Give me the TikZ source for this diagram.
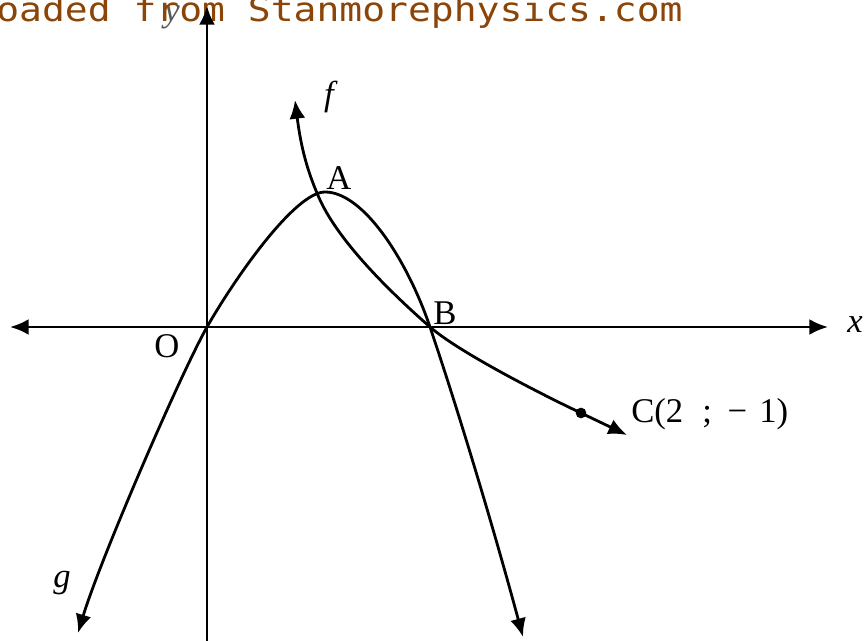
\documentclass[tikz,border=0pt]{standalone}
\usepackage{fontspec}
\setmainfont{Liberation Serif}
\newfontfamily\wmfont[FakeStretch=1.14]{DejaVu Sans Mono}
\usepackage{xcolor}
\usepackage{tikz}
\usetikzlibrary{arrows.meta, positioning, calc}
\definecolor{wmbrown}{RGB}{139,69,8}

\begin{document}
\begin{tikzpicture}[
    x=0.75pt, y=-0.75pt,
    head/.tip={Latex[length=14pt,width=12pt]},
    axis/.style={line width=2.2pt},
    curve/.style={line width=2.1pt},
    lbl/.style={inner sep=0pt, font=\fontsize{26}{26}\selectfont},
    dot/.style={circle, fill, inner sep=0pt, minimum size=8pt}
]
\useasboundingbox (0,0) rectangle (864,641);

\coordinate (O) at (207,327);
\coordinate (ptA) at (317,193);
\coordinate (ptB) at (430,327);
\coordinate (ptC) at (581,413);
\coordinate (gTop) at (325,192);
\coordinate (xL) at (10,327);
\coordinate (xR) at (828,327);
\coordinate (yT) at (207,6);
\coordinate (yB) at (207,641);

\node[lbl, text=black!65] (laby) at (172,17) {\textit{y}};

% watermark
\node[anchor=base west, inner sep=0pt, text=wmbrown, font=\fontsize{25}{25}\wmfont] (wm) at (-4,22) {oaded from Stanmorephysics.com};

% axes
\draw[axis, head-head] (xL) -- (xR);
\draw[axis, -head] (yB) -- (yT);

% f
\draw[curve, head-head] (295,100) .. controls (300,140) and (305,165) .. (ptA)
    .. controls (337,244) and (404,304) .. (ptB)
    .. controls (460,353) and (545,396) .. (ptC) -- (627,435);
% g
\draw[curve, head-head] (78,633) .. controls (100,560) and (180,375) .. (O)
    .. controls (235,278) and (295,192) .. (gTop)
    .. controls (364,192) and (408,262) .. (ptB)
    .. controls (462,422) and (496,537) .. (523,637);

\node[dot] (dotC) at (ptC) {};

\node[lbl, anchor=base west] (labA) at ($(ptA)+(9,-3)$) {A};
\node[lbl, anchor=base west] (labB) at ($(ptB)+(3,-2)$) {B};
\node[lbl] (labO) at ($(O)+(-40,19)$) {O};
\node[lbl, anchor=base west] (labC) at ($(ptC)+(50,10)$) {C(2\hspace{0.55em};\hspace{0.45em}−\hspace{0.35em}1)};
\node[lbl] (labf) at (331,97) {\textit{f}};
\node[lbl] (labg) at (62,583) {\textit{g}};
\node[lbl] (labx) at (855,325) {\textit{x}};

\end{tikzpicture}
\end{document}
